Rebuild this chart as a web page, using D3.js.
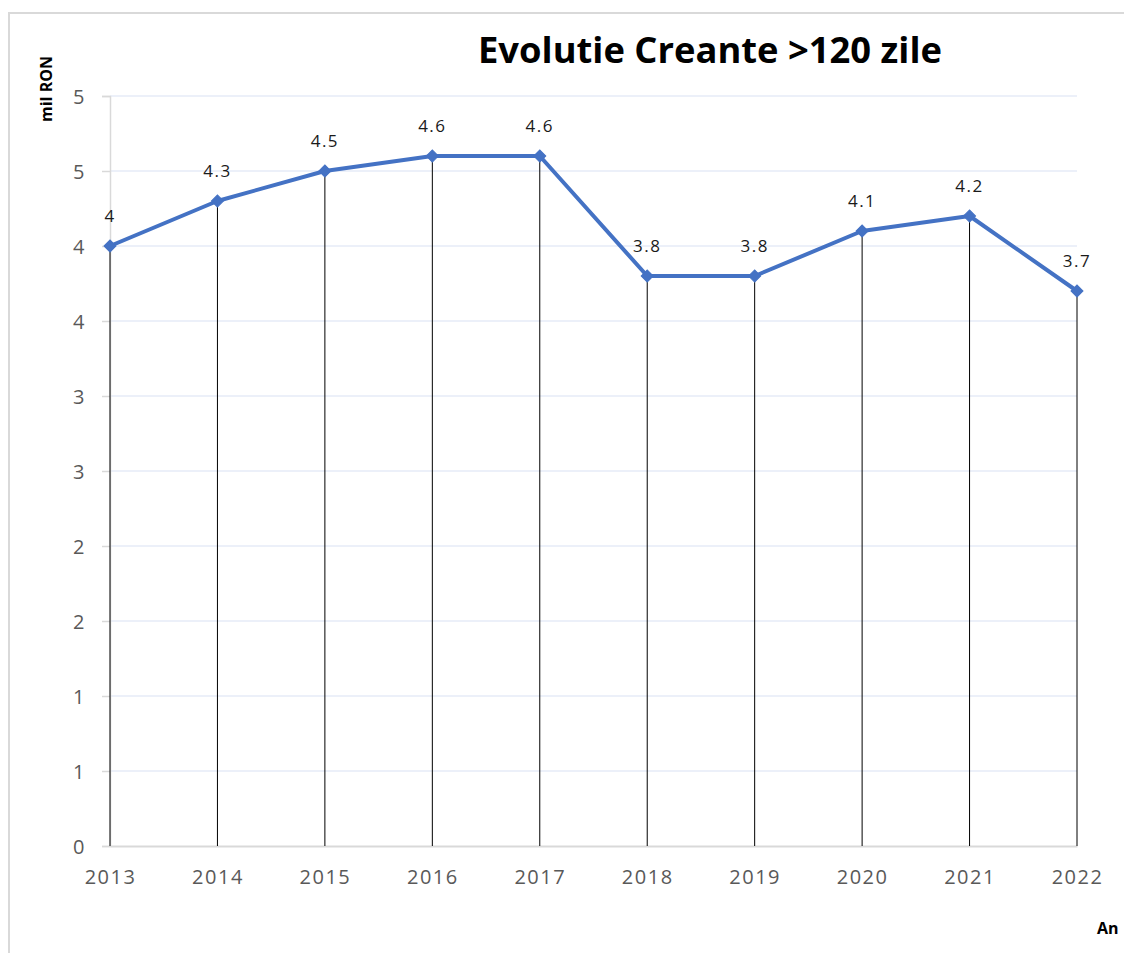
<!DOCTYPE html>
<html>
<head>
<meta charset="utf-8">
<script src="https://cdn.jsdelivr.net/npm/d3@7"></script>
<style>
  html, body { margin: 0; padding: 0; background: #fff; }
  svg { display: block; }
  .tick-label { font-family: "Open Sans", sans-serif; font-size: 20px; fill: #595959; letter-spacing: 1.5px; }
  .data-label { font-family: "Open Sans", sans-serif; font-size: 17px; fill: #1a1a1a; letter-spacing: 1.5px; }
</style>
</head>
<body>
<div id="chart-container"></div>
<script>
// Chart data
const years = ["2013", "2014", "2015", "2016", "2017", "2018", "2019", "2020", "2021", "2022"];
const values = [4.0, 4.3, 4.5, 4.6, 4.6, 3.8, 3.8, 4.1, 4.2, 3.7];
const yTicks = [0, 0.5, 1, 1.5, 2, 2.5, 3, 3.5, 4, 4.5, 5];

// Labels
const title = "Evolutie Creante >120 zile";
const yTitle = "mil RON";
const xTitle = "An";

// Chart configuration
const width = 1124;
const height = 953;
const plot = { left: 110, right: 1077, top: 96, bottom: 846 };

const svg = d3.select("#chart-container")
    .append("svg")
    .attr("width", width)
    .attr("height", height);

// Outer chart border (only top and left visible in the crop)
svg.append("path")
    .attr("d", `M9,${height} V13 H${width}`)
    .attr("fill", "none")
    .attr("stroke", "#d9d9d9")
    .attr("stroke-width", 2);

const x = d3.scalePoint()
    .domain(years)
    .range([plot.left, plot.right]);

const y = d3.scaleLinear()
    .domain([0, 5])
    .range([plot.bottom, plot.top]);

// Gridlines
svg.append("g")
    .selectAll("line")
    .data(yTicks.filter(d => d > 0))
    .join("line")
    .attr("x1", plot.left)
    .attr("x2", plot.right)
    .attr("y1", d => y(d))
    .attr("y2", d => y(d))
    .attr("stroke", "#d9e2f3")
    .attr("stroke-width", 1.2);

// Y axis
const yAxis = svg.append("g")
    .attr("transform", `translate(${plot.left},0)`)
    .call(d3.axisLeft(y)
        .tickValues(yTicks)
        .tickSize(8)
        .tickPadding(16)
        .tickFormat(d => Math.round(d)));

yAxis.select(".domain").attr("stroke", "#d9d9d9").attr("stroke-width", 1.5);
yAxis.selectAll(".tick line").attr("stroke", "#d9d9d9").attr("stroke-width", 1.5);
yAxis.selectAll(".tick text")
    .attr("class", "tick-label")
    .attr("font-family", null)
    .attr("font-size", null)
    .attr("fill", null)
    .attr("dy", "0.35em");

// X axis
const xAxis = svg.append("g")
    .attr("transform", `translate(0,${plot.bottom})`)
    .call(d3.axisBottom(x).tickSize(0).tickPadding(24));

xAxis.select(".domain").attr("stroke", "#d9d9d9").attr("stroke-width", 2);
xAxis.selectAll(".tick text")
    .attr("class", "tick-label")
    .attr("font-family", null)
    .attr("font-size", null)
    .attr("fill", null);

// Drop lines
svg.append("g")
    .selectAll("line")
    .data(values)
    .join("line")
    .attr("x1", (d, i) => x(years[i]))
    .attr("x2", (d, i) => x(years[i]))
    .attr("y1", d => y(d))
    .attr("y2", plot.bottom)
    .attr("stroke", "#000")
    .attr("stroke-width", 1);

// Series line
const line = d3.line()
    .x((d, i) => x(years[i]))
    .y(d => y(d));

svg.append("path")
    .datum(values)
    .attr("d", line)
    .attr("fill", "none")
    .attr("stroke", "#4472c4")
    .attr("stroke-width", 4)
    .attr("stroke-linejoin", "round");

// Diamond markers (square turned 45 degrees, like Excel)
svg.append("g")
    .selectAll("path")
    .data(values)
    .join("path")
    .attr("d", d3.symbol(d3.symbolSquare, 72))
    .attr("transform", (d, i) => `translate(${x(years[i])},${y(d)}) rotate(45)`)
    .attr("fill", "#4472c4")
    .attr("stroke", "#4472c4")
    .attr("stroke-width", 1);

// Data labels
svg.append("g")
    .selectAll("text")
    .data(values)
    .join("text")
    .attr("class", "data-label")
    .attr("x", (d, i) => x(years[i]))
    .attr("y", d => y(d) - 24)
    .attr("text-anchor", "middle")
    .text(d => d);

// Title
svg.append("text")
    .attr("x", 710)
    .attr("y", 63)
    .attr("text-anchor", "middle")
    .attr("font-family", "'Open Sans', sans-serif")
    .attr("font-weight", "bold")
    .attr("font-size", 36)
    .attr("textLength", 464)
    .attr("lengthAdjust", "spacingAndGlyphs")
    .attr("fill", "#000")
    .text(title);

// Axis titles
svg.append("text")
    .attr("transform", "translate(52,89) rotate(-90)")
    .attr("text-anchor", "middle")
    .attr("font-family", "'Open Sans', sans-serif")
    .attr("font-weight", "bold")
    .attr("font-size", 16)
    .attr("fill", "#000")
    .text(yTitle);

svg.append("text")
    .attr("x", 1097)
    .attr("y", 934)
    .attr("font-family", "'Open Sans', sans-serif")
    .attr("font-weight", "bold")
    .attr("font-size", 16)
    .attr("fill", "#000")
    .text(xTitle);
</script>
</body>
</html>
